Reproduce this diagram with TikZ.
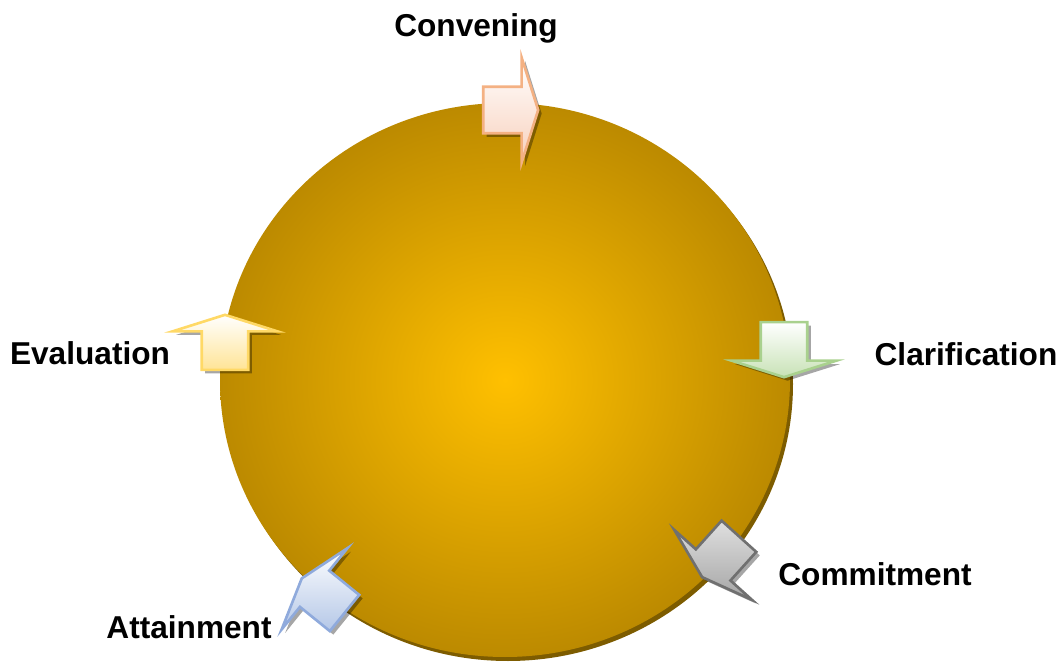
\documentclass[tikz,border=0pt]{standalone}
\usepackage{fontspec}
\setmainfont{Liberation Sans}
\usepackage{tikz}
\usetikzlibrary{shapes.arrows,shadows,positioning}
\definecolor{cygoldin}{RGB}{255,192,0}
\definecolor{cygoldout}{RGB}{188,138,0}
\definecolor{cyshadow}{RGB}{125,92,0}
\definecolor{cypeach}{RGB}{244,177,131}
\definecolor{cypeachfill}{RGB}{248,208,188}
\definecolor{cygreen}{RGB}{169,209,142}
\definecolor{cygreenfill}{RGB}{200,226,182}
\definecolor{cygray}{RGB}{112,112,112}
\definecolor{cygrayfill}{RGB}{165,165,165}
\definecolor{cyblue}{RGB}{143,170,220}
\definecolor{cybluefill}{RGB}{180,199,231}
\definecolor{cyyellow}{RGB}{255,217,102}
\definecolor{cyyellowfill}{RGB}{255,228,150}
\pgfdeclareradialshading{goldball}{\pgfpoint{0bp}{0bp}}{color(0bp)=(cygoldin); color(25bp)=(cygoldout); color(50bp)=(cygoldout)}
\tikzset{
  steparrow/.style={single arrow, draw, line width=1.5pt, inner xsep=0.3cm, inner ysep=0.44cm,
    minimum height=1.1cm, single arrow head extend=0.58cm, single arrow tip angle=145,
    drop shadow={shadow xshift=0.07cm, shadow yshift=-0.07cm, opacity=0.35, fill=black}},
  steplabel/.style={font=\fontsize{18}{20}\selectfont\bfseries, anchor=base, inner sep=0pt}
}
\begin{document}
\begin{tikzpicture}[x=0.02cm, y=0.02cm]
    \useasboundingbox (0,0) rectangle (1063,664);

    % Cycle disc with its shadow
    \fill[cyshadow] (508,280) ellipse [x radius=285, y radius=277];
    \shade[shading=goldball] (505,284) ellipse [x radius=285, y radius=277];

    % Arrows, clockwise from the top
    \node[steparrow, draw=cypeach, top color=white, bottom color=cypeachfill, rotate=0]
      (aconv) at (507,554) {};
    \node[steparrow, draw=cygreen, top color=white, bottom color=cygreenfill, rotate=-90]
      (aclar) at (784,318) {};
    \node[steparrow, draw=cygray, top color=gray!25, bottom color=cygrayfill, rotate=-132]
      (acomm) at (723,110) {};
    \node[steparrow, draw=cyblue, top color=white, bottom color=cybluefill, rotate=141]
      (aattn) at (326,66) {};
    \node[steparrow, draw=cyyellow, top color=white, bottom color=cyyellowfill, rotate=90]
      (aeval) at (225,318) {};

    % Labels
    \node[steplabel] (conv) at (476,627) {Convening};
    \node[steplabel] (clar) at (966,299) {Clarification};
    \node[steplabel] (comm) at (875,79)  {Commitment};
    \node[steplabel] (attn) at (189,26)  {Attainment};
    \node[steplabel] (eval) at (90,300)  {Evaluation};
\end{tikzpicture}
\end{document}
